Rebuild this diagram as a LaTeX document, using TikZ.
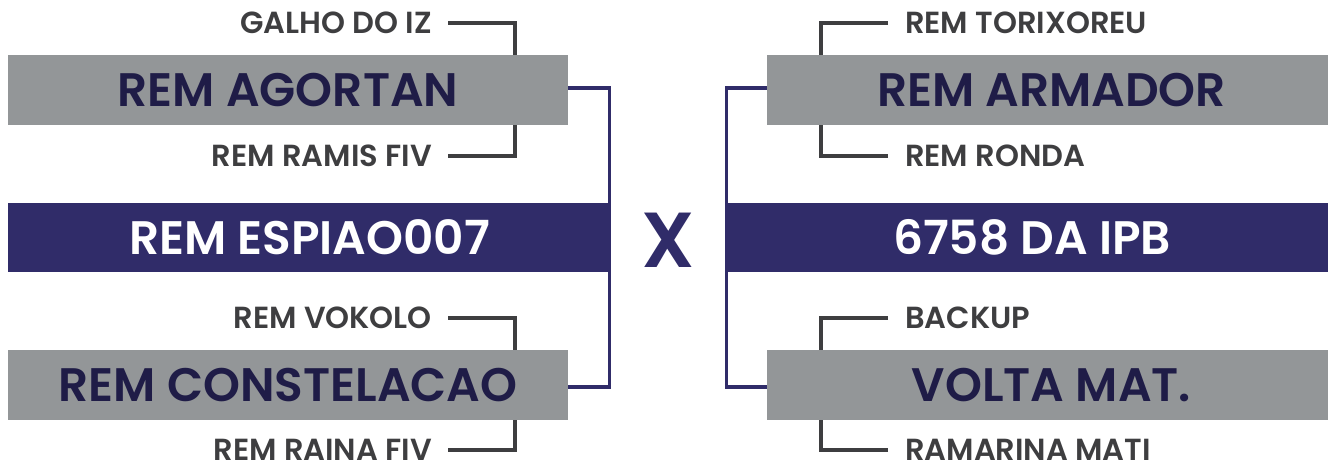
\documentclass[tikz,border=0pt]{standalone}
\usepackage{fontspec}
\setmainfont{Poppins}[BoldFont={* SemiBold}]
\definecolor{boxgray}{HTML}{939698}
\definecolor{navy}{HTML}{302C69}
\definecolor{navytext}{HTML}{1F1C47}
\definecolor{linegray}{HTML}{3E3E40}
\begin{document}
\begin{tikzpicture}[x=1pt,y=-1pt,
  graybox/.style={fill=boxgray, minimum height=70pt, inner sep=0pt, text=navytext, font=\fontsize{47}{47}\selectfont\bfseries},
  navybar/.style={fill=navy, minimum height=69pt, inner sep=0pt, text=white, font=\fontsize{47}{47}\selectfont\bfseries},
  lbl/.style={text=linegray, inner sep=0pt, font=\fontsize{30.5}{30.5}\selectfont\bfseries},
  gline/.style={draw=linegray, line width=4pt},
  nline/.style={draw=navy, line width=3.5pt},
  vsx/.style={text=navy, inner sep=0pt, font=\fontsize{78}{78}\selectfont\bfseries}]
\useasboundingbox (0,0) rectangle (1328,466);
% left side
\node[graybox, minimum width=560pt] (ag) at (288,90) {REM AGORTAN};
\node[navybar, minimum width=603pt] (esp) at (309.5,237.5) {REM ESPIAO007};
\node[graybox, minimum width=560pt] (con) at (288,385) {REM CONSTELACAO};
\node[lbl, anchor=east] (gal) at (432,23) {GALHO DO IZ};
\node[lbl, anchor=east] (ram) at (432,156) {REM RAMIS FIV};
\node[lbl, anchor=east] (vok) at (432,318) {REM VOKOLO};
\node[lbl, anchor=east] (rai) at (432,450) {REM RAINA FIV};
% center
\node[vsx] (x) at (668,240) {X};
% right side
\node[graybox, minimum width=569pt] (arm) at (1051.5,90) {REM ARMADOR};
\node[navybar, minimum width=614pt] (ipb) at (1032,237.5) {6758 DA IPB};
\node[graybox, minimum width=569pt] (vol) at (1051.5,385) {VOLTA MAT.};
\node[lbl, anchor=west] (tor) at (905,23) {REM TORIXOREU};
\node[lbl, anchor=west] (ron) at (905,156) {REM RONDA};
\node[lbl, anchor=west] (bak) at (905,318) {BACKUP};
\node[lbl, anchor=west] (rma) at (905,450) {RAMARINA MATI};
% gray connectors
\draw[gline] ([xshift=16pt]gal.east) -| ([xshift=507pt]ag.north west);
\draw[gline] ([xshift=16pt]ram.east) -| ([xshift=507pt]ag.south west);
\draw[gline] ([xshift=16pt]vok.east) -| ([xshift=507pt]con.north west);
\draw[gline] ([xshift=16pt]rai.east) -| ([xshift=507pt]con.south west);
\draw[gline] ([xshift=-17pt]tor.west) -| ([xshift=54pt]arm.north west);
\draw[gline] ([xshift=-17pt]ron.west) -| ([xshift=54pt]arm.south west);
\draw[gline] ([xshift=-17pt]bak.west) -| ([xshift=54pt]vol.north west);
\draw[gline] ([xshift=-17pt]rma.west) -| ([xshift=54pt]vol.south west);
% navy connectors
\draw[nline] ([yshift=2pt]ag.east) -| ([xshift=-1.75pt]esp.north east);
\draw[nline] ([yshift=-2pt]con.east) -| ([xshift=-1.75pt]esp.south east);
\draw[nline] ([yshift=2pt]arm.west) -| ([xshift=1.75pt]ipb.north west);
\draw[nline] ([yshift=-2pt]vol.west) -| ([xshift=1.75pt]ipb.south west);
\end{tikzpicture}
\end{document}
